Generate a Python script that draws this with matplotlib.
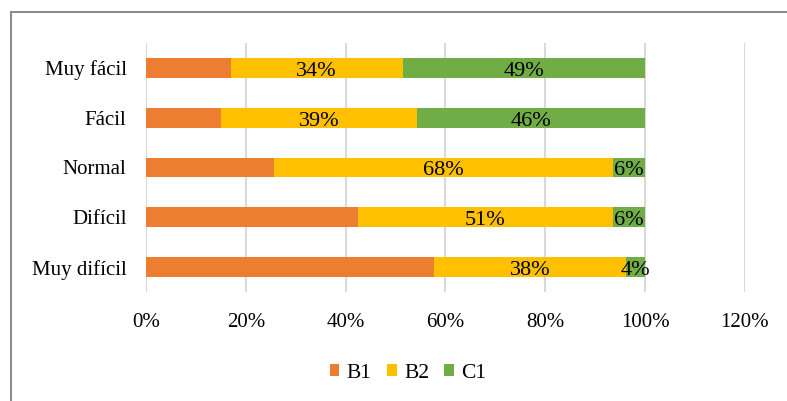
import matplotlib.pyplot as plt
from matplotlib.lines import Line2D
import numpy as np

plt.rcParams['font.family'] = ['Liberation Serif', 'DejaVu Serif']

categorias = ["Muy fácil", "Fácil", "Normal", "Difícil", "Muy difícil"]
niveles = ["B1", "B2", "C1"]
b1 = [17.0, 15.0, 25.6, 42.4, 57.7]
b2 = [34.4, 39.3, 68.0, 51.2, 38.4]
c1 = [48.6, 45.7, 6.4, 6.4, 3.9]
colores = ["#ED7D31", "#FFC000", "#70AD47"]
ticks_x = [0, 20, 40, 60, 80, 100, 120]

fig = plt.figure(figsize=(7.87, 4.01), dpi=100)
ax = fig.add_axes([0.1855, 0.2718, 0.761, 0.621])

y = np.arange(len(categorias))
izquierda = np.zeros(len(categorias))
for serie, nombre, color in zip([b1, b2, c1], niveles, colores):
    valores = np.array(serie)
    ax.barh(y, valores, left=izquierda, height=0.4, color=color,
            label=nombre, zorder=3)
    # Etiquetas solo para B2 y C1
    if nombre != "B1":
        for yi, l, v in zip(y, izquierda, valores):
            ax.text(l + v / 2, yi + 0.07, f"{v:.0f}%", ha="center",
                    va="center", fontsize=16, color="black", zorder=4)
    izquierda += valores

ax.set_xlim(0, 120)
ax.set_ylim(len(categorias) - 0.5, -0.5)
ax.set_xticks(ticks_x)
ax.set_xticklabels([f"{t}%" for t in ticks_x])
ax.set_yticks(y)
ax.set_yticklabels(categorias)
ax.tick_params(axis="both", length=0, labelsize=15)
ax.tick_params(axis="x", pad=15)
ax.tick_params(axis="y", pad=14)
ax.grid(axis="x", color="#D9D9D9", linewidth=1.5, zorder=0)
for s in ax.spines.values():
    s.set_visible(False)

handles, labels = ax.get_legend_handles_labels()
fig.legend(handles, labels, loc="center", bbox_to_anchor=(408 / 787, 1 - 373 / 401),
           ncol=3, frameon=False, fontsize=15.5, handlelength=0.45,
           handleheight=0.45, handletextpad=0.35, columnspacing=0.7)

# Marco del gráfico (solo izquierda y arriba)
fig.add_artist(Line2D([10.5 / 787, 10.5 / 787], [0, 1 - 12 / 401],
                      transform=fig.transFigure, color="#8C8C8C", linewidth=1.5))
fig.add_artist(Line2D([10.5 / 787, 1], [1 - 12 / 401, 1 - 12 / 401],
                      transform=fig.transFigure, color="#8C8C8C", linewidth=1.5))

fig.savefig("out.png", dpi=100)
